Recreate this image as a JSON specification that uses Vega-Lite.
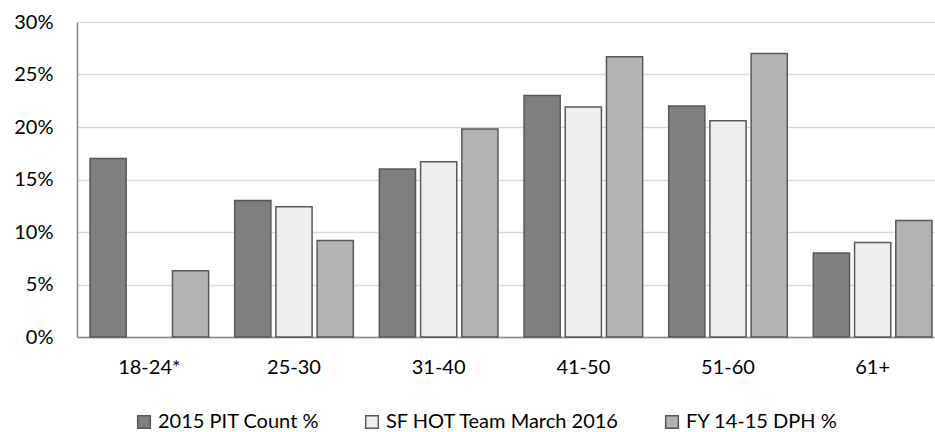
{
  "$schema": "https://vega.github.io/schema/vega-lite/v6.json",
  "width": 868,
  "height": 315,
  "autosize": {"type": "none"},
  "padding": {"left": 77, "top": 22, "right": 0, "bottom": 95},
  "background": "white",
  "data": {
    "values": [
      {"age": "18-24*", "series": "2015 PIT Count %", "pct": 0.17},
      {"age": "18-24*", "series": "FY 14-15 DPH %", "pct": 0.063},
      {"age": "25-30", "series": "2015 PIT Count %", "pct": 0.13},
      {"age": "25-30", "series": "SF HOT Team March 2016", "pct": 0.124},
      {"age": "25-30", "series": "FY 14-15 DPH %", "pct": 0.092},
      {"age": "31-40", "series": "2015 PIT Count %", "pct": 0.16},
      {"age": "31-40", "series": "SF HOT Team March 2016", "pct": 0.167},
      {"age": "31-40", "series": "FY 14-15 DPH %", "pct": 0.198},
      {"age": "41-50", "series": "2015 PIT Count %", "pct": 0.23},
      {"age": "41-50", "series": "SF HOT Team March 2016", "pct": 0.219},
      {"age": "41-50", "series": "FY 14-15 DPH %", "pct": 0.267},
      {"age": "51-60", "series": "2015 PIT Count %", "pct": 0.22},
      {"age": "51-60", "series": "SF HOT Team March 2016", "pct": 0.206},
      {"age": "51-60", "series": "FY 14-15 DPH %", "pct": 0.27},
      {"age": "61+", "series": "2015 PIT Count %", "pct": 0.08},
      {"age": "61+", "series": "SF HOT Team March 2016", "pct": 0.09},
      {"age": "61+", "series": "FY 14-15 DPH %", "pct": 0.111}
    ]
  },
  "mark": {"type": "bar", "stroke": "#595959", "strokeWidth": 1.5},
  "encoding": {
    "x": {
      "field": "age",
      "type": "nominal",
      "sort": ["18-24*", "25-30", "31-40", "41-50", "51-60", "61+"],
      "scale": {"paddingInner": 0.18, "paddingOuter": 0.09},
      "axis": {
        "title": null,
        "labelAngle": 0,
        "ticks": false,
        "domainColor": "#868686",
        "domainWidth": 1.5,
        "labelPadding": 20,
        "labelFontSize": 20,
        "labelColor": "#000000",
        "labelFont": "Lato"
      }
    },
    "xOffset": {
      "field": "series",
      "sort": ["2015 PIT Count %", "SF HOT Team March 2016", "FY 14-15 DPH %"],
      "scale": {"paddingInner": 0.122, "paddingOuter": 0}
    },
    "y": {
      "field": "pct",
      "type": "quantitative",
      "scale": {"domain": [0, 0.3], "nice": false},
      "axis": {
        "title": null,
        "values": [0, 0.05, 0.1, 0.15, 0.2, 0.25, 0.3],
        "format": ".0%",
        "ticks": false,
        "grid": true,
        "gridColor": "#d9d9d9",
        "gridWidth": 1.5,
        "domainColor": "#868686",
        "domainWidth": 1.5,
        "labelPadding": 24,
        "labelFontSize": 20,
        "labelColor": "#000000",
        "labelFont": "Lato"
      }
    },
    "color": {
      "field": "series",
      "type": "nominal",
      "scale": {
        "domain": ["2015 PIT Count %", "SF HOT Team March 2016", "FY 14-15 DPH %"],
        "range": ["#7f7f7f", "#eeeeee", "#b3b3b3"]
      },
      "legend": {
        "title": null,
        "orient": "none",
        "legendX": 57,
        "legendY": 390,
        "direction": "horizontal",
        "symbolType": "square",
        "symbolSize": 160,
        "symbolStrokeColor": "#595959",
        "symbolStrokeWidth": 1.5,
        "symbolOpacity": 1,
        "labelFontSize": 20,
        "labelFont": "Lato",
        "labelColor": "#000000",
        "labelOffset": 4,
        "columnPadding": 42,
        "labelLimit": 400
      }
    }
  },
  "config": {"view": {"stroke": null}, "font": "Lato"}
}
